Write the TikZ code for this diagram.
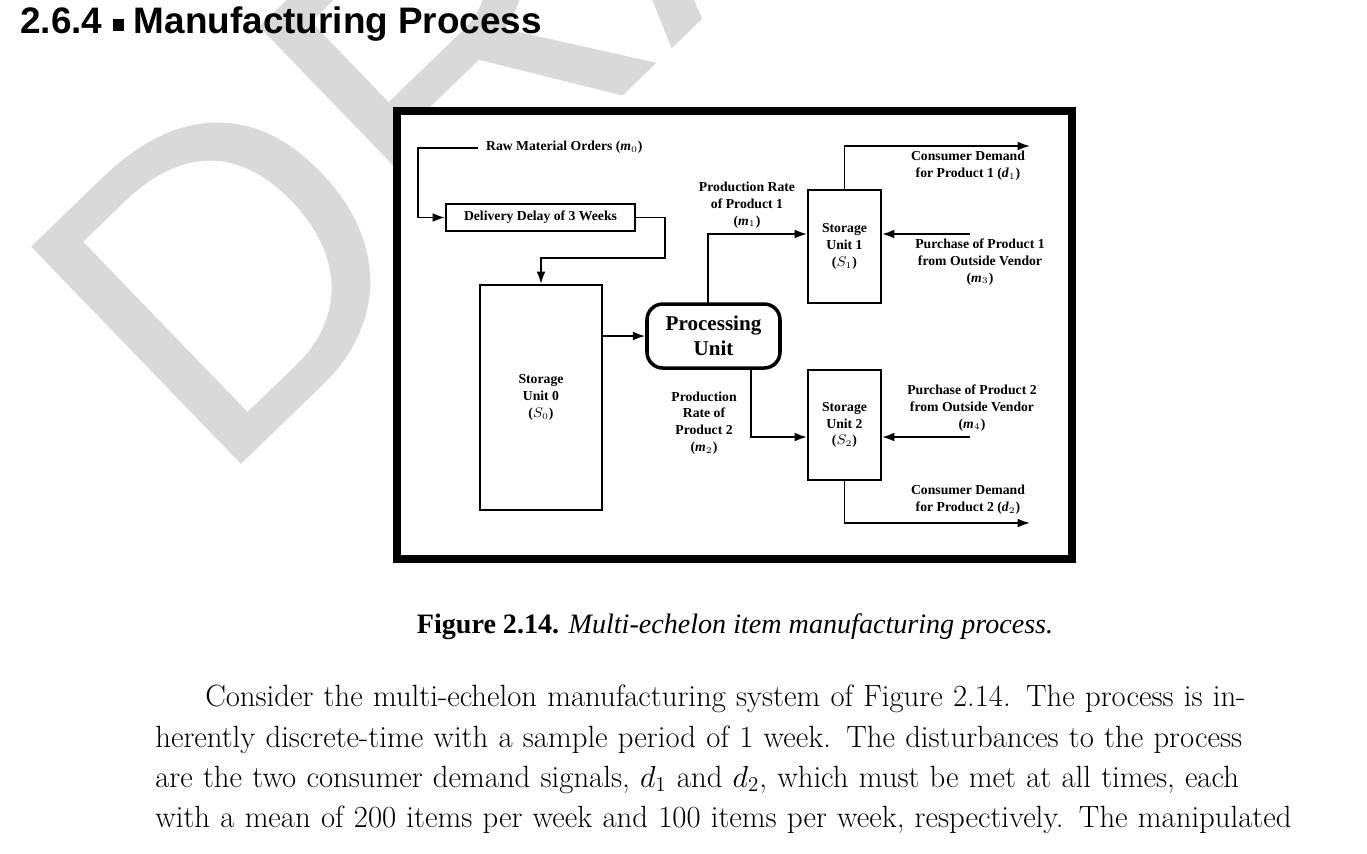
\documentclass[tikz,border=0pt]{standalone}
\usepackage{fontspec}
\newfontfamily\headfont{Liberation Sans}
\newfontfamily\figfont{Liberation Serif}
\usetikzlibrary{arrows.meta}
\begin{document}
\begin{tikzpicture}[x=0.02cm,y=-0.02cm,
  lbl/.style={font=\figfont\fontsize{7.8}{9.6}\selectfont\bfseries,align=center,inner sep=1pt},
  box/.style={draw,line width=1.2pt,fill=white},
  flow/.style={line width=1pt,-{Latex[length=7pt,width=5pt]}},
  wire/.style={line width=1pt}]
\clip (0,0) rectangle (1367,853);
\useasboundingbox (0,0) rectangle (1367,853);
\fill[white] (0,0) rectangle (1367,853);
% watermark
\node[anchor=base west,rotate=44,text=gray!30,font=\headfont\fontsize{250}{250}\selectfont,inner sep=0] (wm) at (215,490) {DRAFT};
% title
\node[anchor=west,font=\headfont\fontsize{21}{24}\selectfont\bfseries,inner sep=0] (title) at (20,24) {2.6.4 \raisebox{0.15ex}{\rule{0.3em}{0.3em}} Manufacturing Process};
% frame
\draw[line width=4.5pt,fill=white] (397,111) rectangle (1072,559);
% boxes
\node[box,minimum width=189*0.02cm,minimum height=27*0.02cm,lbl] (dd) at (540.5,217.5) {Delivery Delay of 3 Weeks};
\node[box,minimum width=122*0.02cm,minimum height=225*0.02cm,lbl] (s0) at (541,397.5) {Storage\\Unit 0\\($S_0$)};
\node[draw,line width=2pt,rounded corners=9pt,fill=white,minimum width=133*0.02cm,minimum height=64*0.02cm,align=center,font=\figfont\fontsize{12}{14}\selectfont\bfseries] (pu) at (713.5,336) {Processing\\Unit};
\node[box,minimum width=73*0.02cm,minimum height=113*0.02cm,lbl] (s1) at (844.5,246.5) {Storage\\Unit 1\\($S_1$)};
\node[box,minimum width=73*0.02cm,minimum height=110*0.02cm,lbl] (s2) at (844.5,425) {Storage\\Unit 2\\($S_2$)};
% labels
\node[lbl,anchor=west] (rm) at (484,147) {Raw Material Orders (\textit{m}$_0$)};
\node[lbl] (pr1) at (747,205) {Production Rate\\of Product 1\\(\textit{m}$_1$)};
\node[lbl] (pr2) at (704,423) {Production\\Rate of\\Product 2\\(\textit{m}$_2$)};
\node[lbl] (cd1) at (968,166) {Consumer Demand\\for Product 1 (\textit{d}$_1$)};
\node[lbl] (cd2) at (968,500) {Consumer Demand\\for Product 2 (\textit{d}$_2$)};
\node[lbl] (pp1) at (980,262) {Purchase of Product 1\\from Outside Vendor\\(\textit{m}$_3$)};
\node[lbl] (pp2) at (972,408) {Purchase of Product 2\\from Outside Vendor\\(\textit{m}$_4$)};
% connector end points
\coordinate (rmE) at (478,148);
\coordinate (d1E) at (1030,146);
\coordinate (d2E) at (1030,523);
\coordinate (p1S) at (970,234);
\coordinate (p2S) at (970,437);
% connectors
\draw[flow] (rmE) -- (418,148) -- (418,217.5) -- (dd.west);
\draw[flow] (dd.east) -- (665,217.5) -- (665,258) -- (541,258) -- (s0.north);
\draw[flow] (s0.east |- pu.west) -- (pu.west);
\draw[flow] (708,304) -- (708,234) -- (s1.west |- 0,234);
\draw[flow] (751,368) -- (751,437) -- (s2.west |- 0,437);
\draw[flow] (s1.north) -- (844.5,146) -- (d1E);
\draw[flow] (s2.south) -- (844.5,523) -- (d2E);
\draw[flow] (p1S) -- (s1.east |- p1S);
\draw[flow] (p2S) -- (s2.east |- p2S);
% caption
\node[font=\figfont\fontsize{16}{18}\selectfont] (cap) at (735,627) {\textbf{Figure 2.14.} \textit{Multi-echelon item manufacturing process.}};
% body text
\node[anchor=north west,inner sep=0,text width=1160*0.02cm,font=\fontsize{17.5}{22.8}\selectfont] (body) at (155,685) {\setlength{\parindent}{1.0cm}\indent Consider the multi-echelon manufacturing system of Figure 2.14. The process is in-\linebreak herently discrete-time with a sample period of 1 week. The disturbances to the process\linebreak are the two consumer demand signals, $d_1$ and $d_2$, which must be met at all times, each\linebreak with a mean of 200 items per week and 100 items per week, respectively. The manipulated\linebreak};
\end{tikzpicture}
\end{document}
